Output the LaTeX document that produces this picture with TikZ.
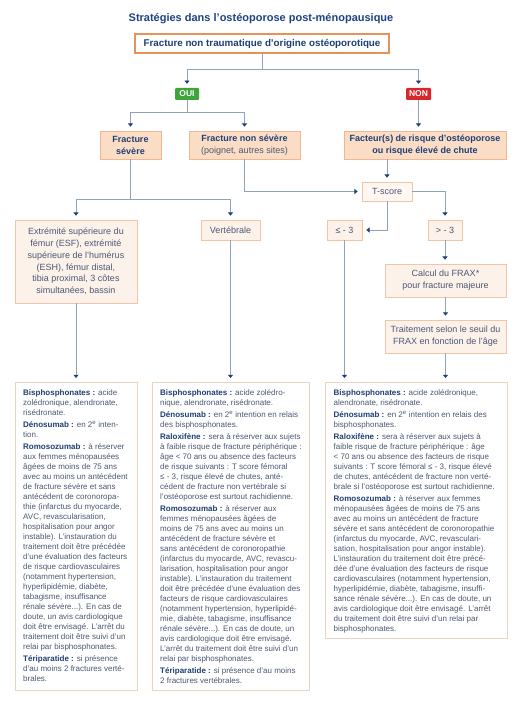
\documentclass[tikz,border=0pt]{standalone}
\usepackage{fontspec}
\setmainfont{Liberation Sans}
\usetikzlibrary{arrows.meta,calc}
\definecolor{navy}{HTML}{1E3F75}
\definecolor{titlec}{HTML}{1E4382}
\definecolor{bodyc}{HTML}{4B5873}
\definecolor{linec}{HTML}{8FA3BA}
\definecolor{orangeb}{HTML}{E8915A}
\definecolor{peachf}{HTML}{FBDDC5}
\definecolor{peachb}{HTML}{F2B791}
\definecolor{lightf}{HTML}{FDF2EA}
\definecolor{lightb}{HTML}{F1C6A6}
\definecolor{botb}{HTML}{EBD3C0}
\definecolor{okgreen}{HTML}{3DA53A}
\definecolor{nored}{HTML}{D7262C}
\newcommand{\hd}[1]{{\bfseries\color{navy}#1}}
\tikzset{
  topbox/.style={draw=orangeb, line width=1.3pt, fill=white, inner sep=0pt,
    font=\fontsize{9.8}{12}\selectfont\bfseries, text=navy},
  tag/.style={inner sep=0pt, rounded corners=1pt, text=white,
    font=\fontsize{8.5}{10}\selectfont\bfseries, minimum height=12pt},
  peach/.style={draw=peachb, line width=0.7pt, fill=peachf, inner sep=0pt, align=center,
    font=\fontsize{9}{12}\selectfont, text=navy},
  light/.style={draw=lightb, line width=0.7pt, fill=lightf, inner sep=0pt, align=center,
    font=\fontsize{9}{11.7}\selectfont, text=bodyc},
  botbox/.style={draw=botb, line width=0.8pt, fill=white, inner sep=0pt, anchor=north west},
  bodytext/.style={inner sep=0pt, anchor=north west, align=left,
    font=\fontsize{8}{10}\selectfont, text=bodyc},
  conn/.style={draw=linec, line width=0.9pt,
    -{Triangle[width=5pt,length=3.2pt,color=navy]}, shorten >=4pt},
}
\begin{document}
\begin{tikzpicture}[x=1pt,y=-1pt]
\useasboundingbox[fill=white] (0,0) rectangle (522,706);

\node[font=\fontsize{11}{13}\selectfont\bfseries, text=titlec] (title) at (261,19)
  {Stratégies dans l'ostéoporose post-ménopausique};

\node[topbox, minimum width=254pt, minimum height=19pt] (top) at (262,43.5)
  {Fracture non traumatique d'origine ostéoporotique};

\node[tag, fill=okgreen, minimum width=24pt] (oui) at (187,94) {OUI};
\node[tag, fill=nored, minimum width=25pt] (non) at (418.5,94) {NON};

\node[peach, minimum width=61pt, minimum height=28pt] (sev) at (130.5,145)
  {\bfseries Fracture\\\bfseries sévère};
\node[peach, minimum width=111pt, minimum height=28pt] (nonsev) at (244.5,145)
  {\bfseries Fracture non sévère\\{\color{bodyc}(poignet, autres sites)}};
\node[peach, minimum width=162pt, minimum height=28pt] (fact) at (425,145)
  {\bfseries Facteur(s) de risque d'ostéoporose\\\bfseries ou risque élevé de chute};

\node[light, fill=lightf!60!white, minimum width=50pt, minimum height=19pt] (tscore) at (387,191.5) {T-score};

\node[light, minimum width=122pt, minimum height=83pt] (esf) at (76,261.5)
  {Extrémité supérieure du\\fémur (ESF), extrémité\\supérieure de l'humérus\\(ESH), fémur distal,\\tibia proximal, 3 côtes\\simultanées, bassin};
\node[light, minimum width=59pt, minimum height=20pt] (vert) at (230.5,230) {Vertébrale};
\node[light, minimum width=35pt, minimum height=20pt] (le3) at (344.5,230) {≤ - 3};
\node[light, minimum width=34pt, minimum height=20pt] (gt3) at (445,230) {> - 3};
\node[light, minimum width=121pt, minimum height=33pt] (frax) at (445.5,280.5)
  {Calcul du FRAX*\\pour fracture majeure};
\node[light, minimum width=121pt, minimum height=33pt] (trait) at (445.5,336.5)
  {Traitement selon le seuil du\\FRAX en fonction de l'âge};

\node[botbox, minimum width=122pt, minimum height=308pt] (A) at (15,382) {};
\node[botbox, minimum width=157pt, minimum height=308pt] (B) at (152,382) {};
\node[botbox, minimum width=182pt, minimum height=256pt] (C) at (325,382) {};

\node[bodytext] (Atext) at ($(A.north west)+(8,7.5)$) {%
\hd{Bisphosphonates :} acide\\
zolédronique, alendronate,\\
risédronate.\\[2pt]
\hd{Dénosumab :} en 2\textsuperscript{e} inten-\\
tion.\\[2pt]
\hd{Romosozumab :} à réserver\\
aux femmes ménopausées\\
âgées de moins de 75 ans\\
avec au moins un antécédent\\
de fracture sévère et sans\\
antécédent de coronoropa-\\
thie (infarctus du myocarde,\\
AVC, revascularisation,\\
hospitalisation pour angor\\
instable). L'instauration du\\
traitement doit être précédée\\
d'une évaluation des facteurs\\
de risque cardiovasculaires\\
(notamment hypertension,\\
hyperlipidémie, diabète,\\
tabagisme, insuffisance\\
rénale sévère...). En cas de\\
doute, un avis cardiologique\\
doit être envisagé. L'arrêt du\\
traitement doit être suivi d'un\\
relai par bisphosphonates.\\[2pt]
\hd{Tériparatide :} si présence\\
d'au moins 2 fractures verté-\\
brales.};

\node[bodytext] (Btext) at ($(B.north west)+(8,7.5)$) {%
\hd{Bisphosphonates :} acide zolédro-\\
nique, alendronate, risédronate.\\[2pt]
\hd{Dénosumab :} en 2\textsuperscript{e} intention en relais\\
des bisphosphonates.\\[2pt]
\hd{Raloxifène :} sera à réserver aux sujets\\
à faible risque de fracture périphérique :\\
âge < 70 ans ou absence des facteurs\\
de risque suivants : T score fémoral\\
≤ - 3, risque élevé de chutes, anté-\\
cédent de fracture non vertébrale si\\
l'ostéoporose est surtout rachidienne.\\[2pt]
\hd{Romosozumab :} à réserver aux\\
femmes ménopausées âgées de\\
moins de 75 ans avec au moins un\\
antécédent de fracture sévère et\\
sans antécédent de coronoropathie\\
(infarctus du myocarde, AVC, revascu-\\
larisation, hospitalisation pour angor\\
instable). L'instauration du traitement\\
doit être précédée d'une évaluation des\\
facteurs de risque cardiovasculaires\\
(notamment hypertension, hyperlipidé-\\
mie, diabète, tabagisme, insuffisance\\
rénale sévère...). En cas de doute, un\\
avis cardiologique doit être envisagé.\\
L'arrêt du traitement doit être suivi d'un\\
relai par bisphosphonates.\\[2pt]
\hd{Tériparatide :} si présence d'au moins\\
2 fractures vertébrales.};

\node[bodytext] (Ctext) at ($(C.north west)+(8.5,7.5)$) {%
\hd{Bisphosphonates :} acide zolédronique,\\
alendronate, risédronate.\\[2pt]
\hd{Dénosumab :} en 2\textsuperscript{e} intention en relais des\\
bisphosphonates.\\[2pt]
\hd{Raloxifène :} sera à réserver aux sujets à\\
faible risque de fracture périphérique : âge\\
< 70 ans ou absence des facteurs de risque\\
suivants : T score fémoral ≤ - 3, risque élevé\\
de chutes, antécédent de fracture non verté-\\
brale si l'ostéoporose est surtout rachidienne.\\[2pt]
\hd{Romosozumab :} à réserver aux femmes\\
ménopausées âgées de moins de 75 ans\\
avec au moins un antécédent de fracture\\
sévère et sans antécédent de coronoropathie\\
(infarctus du myocarde, AVC, revasculari-\\
sation, hospitalisation pour angor instable).\\
L'instauration du traitement doit être précé-\\
dée d'une évaluation des facteurs de risque\\
cardiovasculaires (notamment hypertension,\\
hyperlipidémie, diabète, tabagisme, insuffi-\\
sance rénale sévère...). En cas de doute, un\\
avis cardiologique doit être envisagé. L'arrêt\\
du traitement doit être suivi d'un relai par\\
bisphosphonates.};

% connectors
\draw[conn] (top.south) -- ++(0,16) -| (oui.north);
\draw[conn] (top.south) -- ++(0,16) -| (non.north);
\draw[conn] (oui.south) -- ++(0,12) -| (sev.north);
\draw[conn] (oui.south) -- ++(0,12) -| (nonsev.north);
\draw[conn] (non.south) -- (non.south |- fact.north);
\draw[conn] (fact.south -| tscore.north) -- (tscore.north);
\draw[conn] (nonsev.south) |- (tscore.west);
\draw[conn] (tscore.east) -| (gt3.north);
\draw[conn] (tscore.south) |- (le3.east);
\draw[conn] (sev.south) -- ++(0,40) -| (esf.north);
\draw[conn] (sev.south) -- ++(0,40) -| (vert.north);
\draw[conn] (gt3.south) -- (gt3.south |- frax.north);
\draw[conn] (frax.south) -- (trait.north);
\draw[conn] (esf.south) -- (esf.south |- A.north);
\draw[conn] (vert.south) -- (vert.south |- B.north);
\draw[conn] (le3.south) -- (le3.south |- C.north);
\draw[conn] (trait.south) -- (trait.south |- C.north);
\end{tikzpicture}
\end{document}
